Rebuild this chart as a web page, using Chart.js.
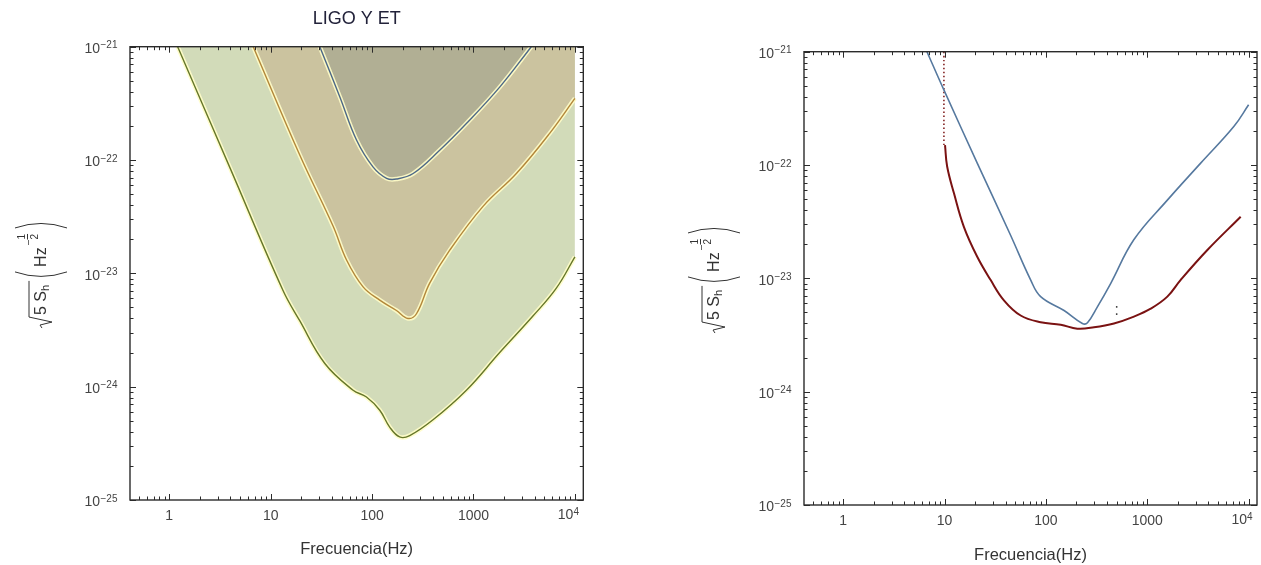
<!DOCTYPE html>
<html>
<head>
<meta charset="utf-8">
<script src="https://cdn.jsdelivr.net/npm/chart.js@4/dist/chart.umd.min.js"></script>
<style>
html, body { margin: 0; padding: 0; background: #fff; }
#left { position: absolute; left: 0; top: 0; width: 630px; height: 565px; }
#right { position: absolute; left: 630px; top: 0; width: 631px; height: 565px; }
</style>
</head>
<body>
<div id="left"><canvas id="chartLeft"></canvas></div>
<div id="right"><canvas id="chartRight"></canvas></div>
<script>
// frequencies in Hz, strain sqrt(5 Sh) in Hz^-1/2

// left panel: "LIGO Y ET"
var etFreq   = [1.21, 4.0, 13.2, 19.4, 34.2, 65, 88, 119, 149, 187, 235, 399, 851, 1813, 3855, 6560, 10000];
var etStrain = [1e-21, 8.4e-23, 7.1e-24, 3.8e-24, 1.6e-24, 9.3e-25, 8.1e-25, 6.2e-25, 4.4e-25, 3.6e-25, 3.7e-25, 5.1e-25, 9.3e-25, 2.0e-24, 4.2e-24, 7.4e-24, 1.4e-23];

var aligoFreq   = [6.73, 19.4, 41.3, 56, 81.5, 119, 174, 226, 274, 370, 583, 1242, 2648, 5636, 10000];
var aligoStrain = [1e-21, 1.1e-22, 2.6e-23, 1.31e-23, 7.6e-24, 5.8e-24, 4.7e-24, 4.0e-24, 4.4e-24, 8.2e-24, 1.6e-23, 3.9e-23, 7.6e-23, 1.72e-22, 3.5e-22];

var ligoFreq   = [30.5, 48.1, 70.2, 102, 139, 174, 254, 464, 851, 1813, 3718];
var ligoStrain = [1e-21, 3.6e-22, 1.5e-22, 8.7e-23, 6.9e-23, 6.8e-23, 7.6e-23, 1.22e-22, 2.1e-22, 4.4e-22, 1e-21];

// right panel
var blueFreq   = [6.7, 9.84, 21.0, 44.8, 70.6, 88.7, 151, 229, 257, 322, 435, 739, 1578, 3365, 7178, 10000];
var blueStrain = [1e-21, 4.6e-22, 1.04e-22, 2.4e-23, 9.7e-24, 6.9e-24, 5.2e-24, 4.0e-24, 4.06e-24, 5.6e-24, 9.0e-24, 2.2e-23, 4.9e-23, 1.04e-22, 2.2e-22, 3.4e-22];

var redFreq   = [10.1, 10.6, 12.4, 15.5, 21.0, 28.4, 38.5, 56.3, 88.7, 140, 204, 298, 469, 739, 1081, 1578, 2138, 3918, 8356];
var redStrain = [1.5e-22, 9.7e-23, 5.6e-23, 2.85e-23, 1.55e-23, 9.7e-24, 6.4e-24, 4.7e-24, 4.1e-24, 3.9e-24, 3.6e-24, 3.7e-24, 4.0e-24, 4.6e-24, 5.4e-24, 6.9e-24, 9.7e-24, 1.78e-23, 3.5e-23];

var redCutFreq   = [9.85, 9.85];
var redCutStrain = [1e-21, 1.5e-22];
var markFreq   = [499, 499];
var markStrain = [5.7e-24, 4.7e-24];

// axes
var freqMin = 0.41, freqMax = 12100;
var strainMin = 1e-25, strainMax = 1e-21;
var freqTicks = [1, 10, 100, 1000, 10000];
var strainTicks = [1e-25, 1e-24, 1e-23, 1e-22, 1e-21];

var FONT = '"Liberation Sans", Arial, sans-serif';
var Y_PAD = 30;
Chart.defaults.font.family = FONT;

var toPoints = function(xs, ys) {
  return xs.map(function(x, i) { return { x: x, y: ys[i] }; });
};

// all 1..9 x 10^n values between min and max, for inner tick marks
var logMarks = function(min, max) {
  var out = [];
  for (var e = -27; e <= 6; e++) {
    for (var m = 1; m < 10; m++) {
      var v = m * Math.pow(10, e);
      if (v >= min * 0.999 && v <= max * 1.001) out.push({ v: v, major: m === 1 });
    }
  }
  return out;
};

// Mathematica-like frame with inward ticks on all four sides
var framePlugin = {
  id: 'frame',
  afterDraw: function(chart) {
    var ctx = chart.ctx, a = chart.chartArea;
    var xs = chart.scales.x, ys = chart.scales.y;
    ctx.save();
    ctx.strokeStyle = '#2b2b2b';
    ctx.lineWidth = 1;
    ctx.beginPath();
    logMarks(xs.min, xs.max).forEach(function(t) {
      var px = Math.round(xs.getPixelForValue(t.v)) + 0.5;
      var l = t.major ? 6 : 3.5;
      ctx.moveTo(px, a.bottom); ctx.lineTo(px, a.bottom - l);
      ctx.moveTo(px, a.top); ctx.lineTo(px, a.top + l);
    });
    logMarks(ys.min, ys.max).forEach(function(t) {
      var py = Math.round(ys.getPixelForValue(t.v)) + 0.5;
      var l = t.major ? 6 : 3.5;
      ctx.moveTo(a.left, py); ctx.lineTo(a.left + l, py);
      ctx.moveTo(a.right, py); ctx.lineTo(a.right - l, py);
    });
    ctx.stroke();
    ctx.lineWidth = 1.4;
    ctx.strokeRect(a.left, a.top, a.right - a.left, a.bottom - a.top);
    ctx.restore();
  }
};

// exponents of the power-of-ten tick labels (the "10" comes from the scale)
var exponentPlugin = {
  id: 'exponents',
  afterDraw: function(chart) {
    var ctx = chart.ctx, xs = chart.scales.x, ys = chart.scales.y;
    ctx.save();
    ctx.fillStyle = '#444';
    ctx.textBaseline = 'alphabetic';
    ctx.textAlign = 'left';
    ctx.font = '10px ' + FONT;
    strainTicks.forEach(function(v) {
      var py = ys.getPixelForValue(v);
      ctx.fillText('\u2212' + Math.abs(Math.round(Math.log10(v))), ys.right - Y_PAD + 0.5, py + 1.5);
    });
    var top = freqTicks[freqTicks.length - 1];
    var px = xs.getPixelForValue(top);
    ctx.fillText(String(Math.round(Math.log10(top))), px - 1.5, xs.top + 15);
    ctx.font = '14px ' + FONT;
    ctx.textAlign = 'right';
    ctx.textBaseline = 'middle';
    ctx.fillText('10', px - 1.5, xs.top + 15);
    ctx.restore();
  }
};

// pale halo drawn under a curve, over its fill
var glowPlugin = {
  id: 'glow',
  beforeDatasetDraw: function(chart, args) {
    var ds = chart.data.datasets[args.index];
    if (!ds.glowColor) return;
    var pts = args.meta.data, ctx = chart.ctx, a = chart.chartArea;
    ctx.save();
    ctx.beginPath();
    ctx.rect(a.left, a.top, a.right - a.left, a.bottom - a.top);
    ctx.clip();
    ctx.beginPath();
    ctx.moveTo(pts[0].x, pts[0].y);
    for (var i = 1; i < pts.length; i++) {
      var p = pts[i - 1], c = pts[i];
      if (p.cp2x !== undefined) ctx.bezierCurveTo(p.cp2x, p.cp2y, c.cp1x, c.cp1y, c.x, c.y);
      else ctx.lineTo(c.x, c.y);
    }
    ctx.strokeStyle = ds.glowColor;
    ctx.lineWidth = 4.5;
    ctx.lineJoin = 'round';
    ctx.stroke();
    ctx.restore();
  }
};

// y axis title: sqrt(5 S_h) (Hz^-1/2), rotated
var drawStrainTitle = function(ctx, cx, cy) {
  var big = '16px ' + FONT, small = '11px ' + FONT, tiny = '10px ' + FONT;
  ctx.save();
  ctx.translate(cx, cy);
  ctx.rotate(-Math.PI / 2);
  ctx.fillStyle = '#333';
  ctx.strokeStyle = '#333';
  ctx.lineWidth = 1;
  ctx.textBaseline = 'alphabetic';
  ctx.font = big;
  var w5S = ctx.measureText('5 S').width, wHz = ctx.measureText('Hz').width;
  ctx.font = small;
  var wh = ctx.measureText('h').width;
  ctx.font = tiny;
  var wm = ctx.measureText('\u2212').width, wd = ctx.measureText('2').width;
  var total = 13 + w5S + wh + 7 + 11 + wHz + 2 + wm + wd + 6 + 6;
  var u = -total / 2, b = 6;
  // radical sign and overline
  ctx.beginPath();
  ctx.moveTo(u, b - 4);
  ctx.lineTo(u + 3, b - 6);
  ctx.lineTo(u + 6, b + 6);
  ctx.lineTo(u + 11, b - 17);
  u += 13;
  ctx.font = big;
  ctx.fillText('5 S', u, b);
  u += w5S;
  ctx.font = small;
  ctx.fillText('h', u, b + 3);
  u += wh + 4;
  ctx.lineTo(u, b - 17);
  ctx.stroke();
  u += 3;
  // opening paren
  ctx.beginPath();
  ctx.moveTo(u + 6, b - 31);
  ctx.quadraticCurveTo(u - 3, b - 5, u + 6, b + 21);
  ctx.stroke();
  u += 11;
  ctx.font = big;
  ctx.fillText('Hz', u, b);
  u += wHz + 2;
  ctx.font = tiny;
  ctx.fillText('\u2212', u, b - 14);
  u += wm;
  ctx.fillText('1', u, b - 21);
  ctx.fillText('2', u, b - 8);
  ctx.beginPath();
  ctx.moveTo(u, b - 18.5);
  ctx.lineTo(u + wd, b - 18.5);
  ctx.stroke();
  u += wd + 6;
  // closing paren
  ctx.beginPath();
  ctx.moveTo(u, b - 31);
  ctx.quadraticCurveTo(u + 9, b - 5, u, b + 21);
  ctx.stroke();
  ctx.restore();
};

var makeScales = function(yWidth, xHeight, titlePad) {
  return {
    x: {
      type: 'logarithmic',
      min: freqMin,
      max: freqMax,
      grid: { display: false, drawTicks: false },
      border: { display: false },
      afterBuildTicks: function(s) { s.ticks = freqTicks.map(function(v) { return { value: v }; }); },
      afterFit: function(s) { s.height = xHeight; },
      ticks: {
        padding: 8,
        maxRotation: 0,
        color: '#444',
        font: { size: 14 },
        callback: function(v) { return v >= 10000 ? '' : String(v); }
      },
      title: {
        display: true,
        text: 'Frecuencia(Hz)',
        color: '#333',
        font: { size: 16.5 },
        padding: { top: 0, bottom: titlePad }
      }
    },
    y: {
      type: 'logarithmic',
      min: strainMin,
      max: strainMax,
      grid: { display: false, drawTicks: false },
      border: { display: false },
      afterBuildTicks: function(s) { s.ticks = strainTicks.map(function(v) { return { value: v }; }); },
      afterFit: function(s) { s.width = yWidth; },
      ticks: {
        padding: Y_PAD,
        labelOffset: 2.5,
        color: '#444',
        font: { size: 14 },
        callback: function() { return '10'; }
      }
    }
  };
};

var lineBase = {
  pointRadius: 0,
  tension: 0.4,
  clip: 0
};

// left chart
new Chart(document.getElementById('chartLeft').getContext('2d'), {
  type: 'line',
  data: {
    datasets: [
      Object.assign({}, lineBase, {
        label: 'LIGO',
        data: toPoints(ligoFreq, ligoStrain),
        borderColor: '#4d6887',
        borderWidth: 1.4,
        backgroundColor: '#b1af94',
        fill: 'end',
        glowColor: 'rgba(255, 253, 200, 0.9)',
        order: 1
      }),
      Object.assign({}, lineBase, {
        label: 'Advanced LIGO',
        data: toPoints(aligoFreq, aligoStrain),
        borderColor: '#b3873a',
        borderWidth: 1.4,
        backgroundColor: '#cbc39f',
        fill: 'end',
        glowColor: 'rgba(255, 253, 200, 0.9)',
        order: 2
      }),
      Object.assign({}, lineBase, {
        label: 'ET',
        data: toPoints(etFreq, etStrain),
        borderColor: '#66772a',
        borderWidth: 1.4,
        backgroundColor: '#d2dbb9',
        fill: 'end',
        glowColor: 'rgba(255, 253, 200, 0.9)',
        order: 3
      })
    ]
  },
  options: {
    responsive: true,
    maintainAspectRatio: false,
    animation: false,
    layout: { padding: { left: 0, top: 46.7, right: 46.7, bottom: 0 } },
    scales: makeScales(130, 65, 6),
    plugins: {
      legend: { display: false },
      tooltip: { enabled: false },
      title: { display: false }
    }
  },
  plugins: [glowPlugin, framePlugin, exponentPlugin, {
    id: 'panelTitle',
    afterDraw: function(chart) {
      var ctx = chart.ctx, a = chart.chartArea;
      ctx.save();
      ctx.fillStyle = '#22223a';
      ctx.font = '18px ' + FONT;
      ctx.textAlign = 'center';
      ctx.textBaseline = 'middle';
      ctx.fillText('LIGO Y ET', (a.left + a.right) / 2, 19);
      ctx.restore();
      drawStrainTitle(ctx, 40, 275);
    }
  }]
});

// right chart
new Chart(document.getElementById('chartRight').getContext('2d'), {
  type: 'line',
  data: {
    datasets: [
      Object.assign({}, lineBase, {
        label: 'sensibilidad',
        data: toPoints(blueFreq, blueStrain),
        borderColor: '#56799f',
        borderWidth: 1.6,
        fill: false
      }),
      Object.assign({}, lineBase, {
        label: 'señal',
        data: toPoints(redFreq, redStrain),
        borderColor: '#7a1212',
        borderWidth: 2,
        fill: false
      }),
      Object.assign({}, lineBase, {
        label: 'corte',
        data: toPoints(redCutFreq, redCutStrain),
        borderColor: '#7a1212',
        borderWidth: 1.5,
        borderDash: [1.5, 2.5],
        fill: false
      }),
      Object.assign({}, lineBase, {
        label: 'marca',
        data: toPoints(markFreq, markStrain),
        borderColor: '#444',
        borderWidth: 1.5,
        borderDash: [1.5, 6],
        fill: false
      })
    ]
  },
  options: {
    responsive: true,
    maintainAspectRatio: false,
    animation: false,
    layout: { padding: { left: 0, top: 51.7, right: 4, bottom: 0 } },
    scales: makeScales(174, 60, 0),
    plugins: {
      legend: { display: false },
      tooltip: { enabled: false },
      title: { display: false }
    }
  },
  plugins: [framePlugin, exponentPlugin, {
    id: 'strainTitle',
    afterDraw: function(chart) { drawStrainTitle(chart.ctx, 83, 280); }
  }]
});
</script>
</body>
</html>
